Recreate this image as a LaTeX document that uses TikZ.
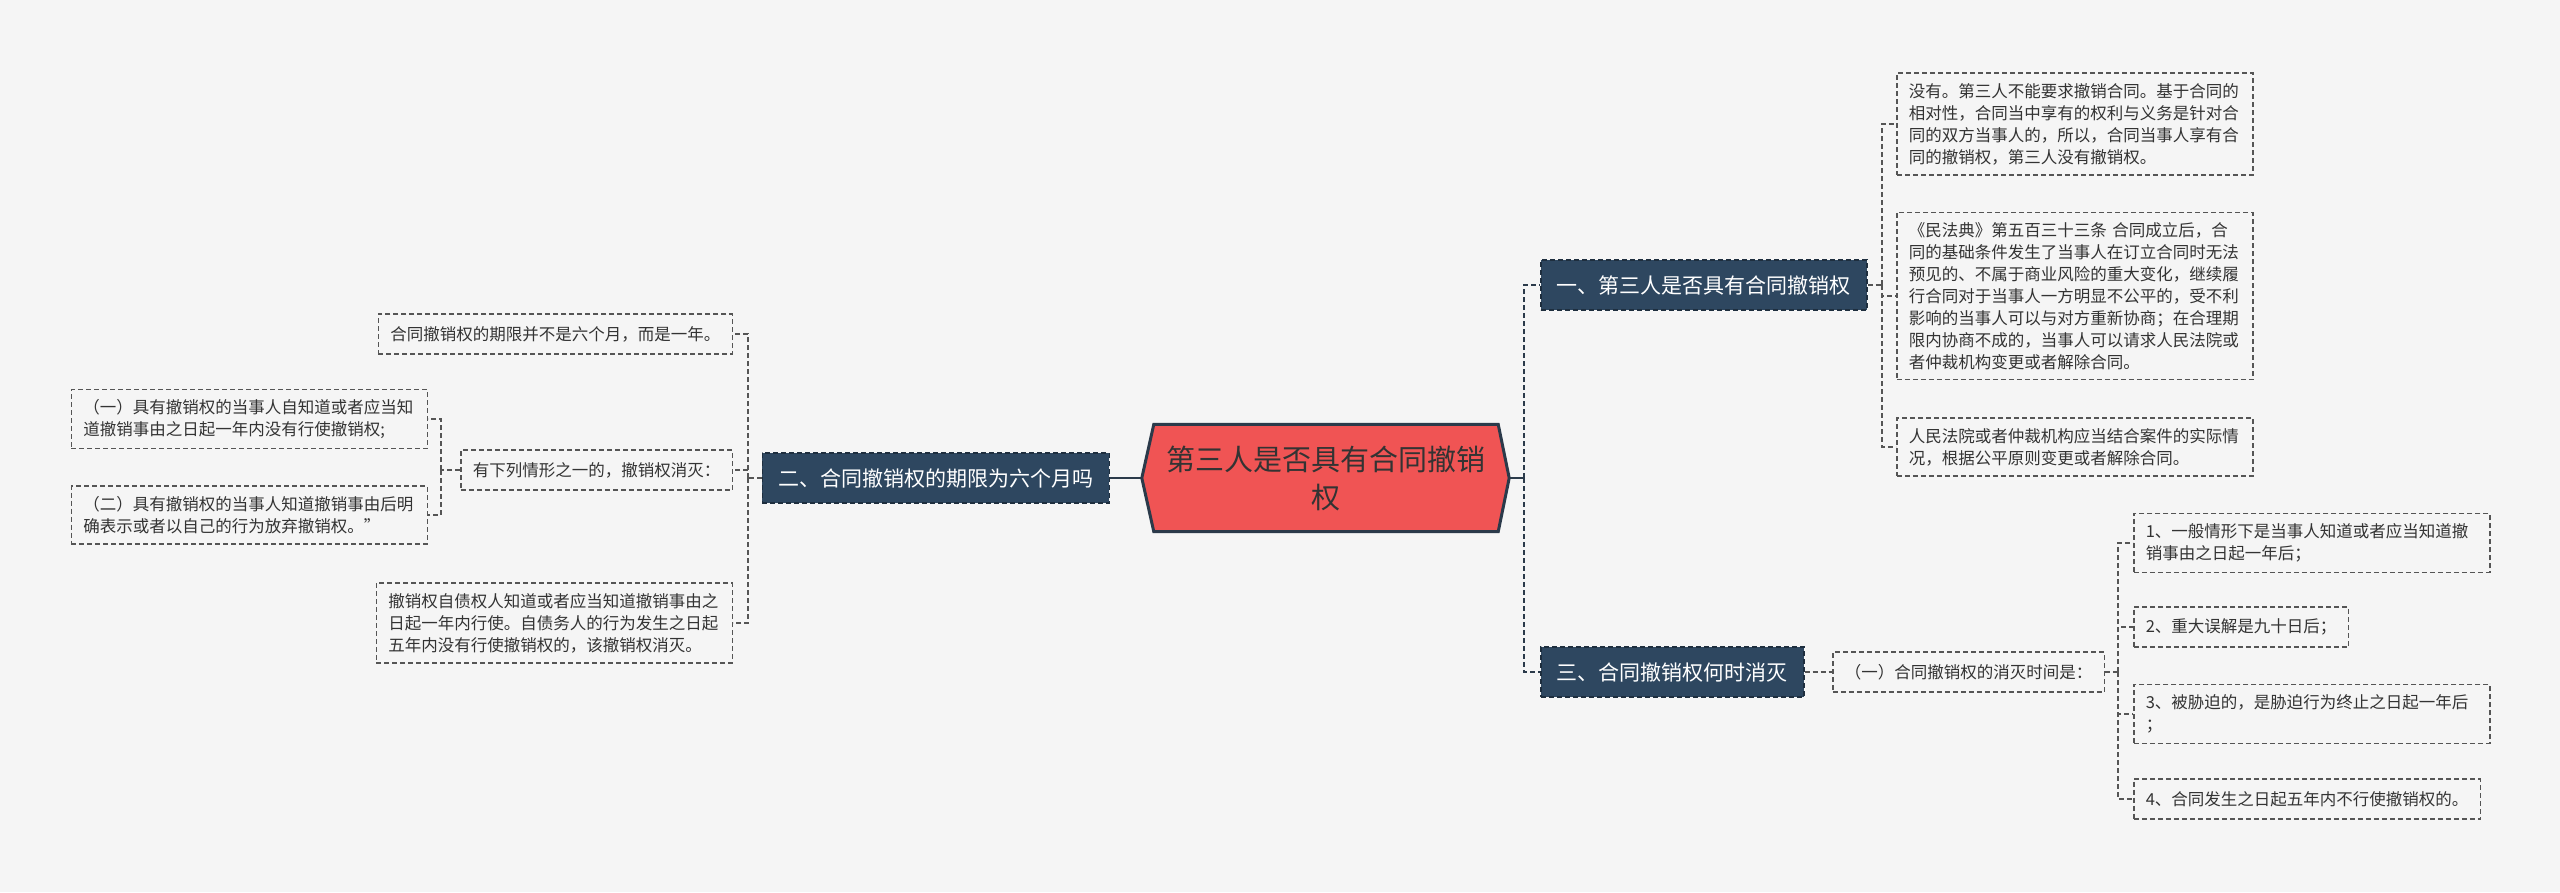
\documentclass[tikz,border=0pt]{standalone}
\usepackage{fontspec}
\setmainfont{Noto Sans CJK SC}
\usetikzlibrary{calc,backgrounds}
\definecolor{bgc}{HTML}{F5F5F5}
\definecolor{topicfill}{HTML}{2E4760}
\definecolor{topicline}{HTML}{1E2E3E}
\definecolor{rootfill}{HTML}{F05454}
\definecolor{rootline}{HTML}{2B3A4A}
\definecolor{leafline}{HTML}{555555}
\definecolor{txt}{HTML}{333333}
\begin{document}
\begin{tikzpicture}[x=1pt,y=-1pt,
  leaf/.style={draw=leafline, line width=1.5pt, dash pattern=on 5pt off 3pt, fill=bgc,
    inner xsep=12pt, inner ysep=10pt, minimum height=40pt, text=txt, align=left,
    font=\fontsize{16.5pt}{22pt}\selectfont},
  leafw/.style={leaf, text width=332pt},
  topic/.style={draw=topicline, line width=1.5pt, dash pattern=on 5pt off 3pt, fill=topicfill,
    inner xsep=16pt, inner ysep=0pt, minimum height=50pt, text=white,
    font=\fontsize{21pt}{26pt}\selectfont},
  rootnode/.style={minimum width=367pt, minimum height=107pt, inner sep=0pt, align=center,
    text=txt, font=\fontsize{29pt}{38pt}\selectfont},
  mainline/.style={draw=rootline, line width=2.5pt},
  maindash/.style={draw=rootline, line width=2.5pt, dash pattern=on 5pt off 3pt},
  conn/.style={draw=leafline, line width=1.5pt, dash pattern=on 5pt off 3pt}
]
\useasboundingbox (0,0) rectangle (2560,892);

% root
\node[rootnode] (ctr) at (1325.5,478) {第三人是否具有合同撤销\\权};
\begin{pgfonlayer}{background}
\fill[bgc] (0,0) rectangle (2560,892);
\filldraw[fill=rootfill, draw=rootline, line width=3pt, line join=miter]
  (ctr.west) -- ($(ctr.north west)+(12,0)$) -- ($(ctr.north east)+(-11,0)$) -- (ctr.east)
  -- ($(ctr.south east)+(-11,0)$) -- ($(ctr.south west)+(12,0)$) -- cycle;
\end{pgfonlayer}

% topics
\node[topic, anchor=west] (n1) at (1540,285) {一、第三人是否具有合同撤销权};
\node[topic, anchor=east] (n2) at (1110,478) {二、合同撤销权的期限为六个月吗};
\node[topic, anchor=west] (n3) at (1540,672) {三、合同撤销权何时消灭};

% branch 1 leaves
\node[leafw, anchor=west] (c1) at (1896,124) {没有。第三人不能要求撤销合同。基于合同的\\相对性，合同当中享有的权利与义务是针对合\\同的双方当事人的，所以，合同当事人享有合\\同的撤销权，第三人没有撤销权。};
\node[leafw, anchor=west] (c2) at (1896,296) {《民法典》第五百三十三条 合同成立后，合\\同的基础条件发生了当事人在订立合同时无法\\预见的、不属于商业风险的重大变化，继续履\\行合同对于当事人一方明显不公平的，受不利\\影响的当事人可以与对方重新协商；在合理期\\限内协商不成的，当事人可以请求人民法院或\\者仲裁机构变更或者解除合同。};
\node[leafw, anchor=west] (c3) at (1896,447) {人民法院或者仲裁机构应当结合案件的实际情\\况，根据公平原则变更或者解除合同。};

% branch 3
\node[leaf, anchor=west] (s3) at (1832,672) {（一）合同撤销权的消灭时间是：};
\node[leafw, anchor=west] (k1) at (2133,543) {1、一般情形下是当事人知道或者应当知道撤\\销事由之日起一年后；};
\node[leaf, anchor=west] (k2) at (2133,627) {2、重大误解是九十日后；};
\node[leafw, anchor=west] (k3) at (2133,714) {3、被胁迫的，是胁迫行为终止之日起一年后\\；};
\node[leaf, anchor=west] (k4) at (2133,799) {4、合同发生之日起五年内不行使撤销权的。};

% branch 2
\node[leaf, anchor=east] (L1) at (733,334) {合同撤销权的期限并不是六个月，而是一年。};
\node[leaf, anchor=east] (L2) at (733,470) {有下列情形之一的，撤销权消灭：};
\node[leafw, anchor=east] (L3) at (733,623) {撤销权自债权人知道或者应当知道撤销事由之\\日起一年内行使。自债务人的行为发生之日起\\五年内没有行使撤销权的，该撤销权消灭。};
\node[leafw, anchor=east] (L2a) at (428,419) {（一）具有撤销权的当事人自知道或者应当知\\道撤销事由之日起一年内没有行使撤销权;};
\node[leafw, anchor=east] (L2b) at (428,515) {（二）具有撤销权的当事人知道撤销事由后明\\确表示或者以自己的行为放弃撤销权。”};

% junctions
\coordinate (jR) at (1524,478);
\coordinate (j1) at (1882,285);
\coordinate (j3) at (2118,672);
\coordinate (j2) at (748,478);
\coordinate (j2b) at (441,470);

% connectors
\draw[mainline] (ctr.west) -- (n2.east);
\draw[mainline] (ctr.east) -- (jR);
\draw[maindash] (jR) |- (n1.west);
\draw[maindash] (jR) |- (n3.west);

\draw[conn] (n1.east) -- (j1);
\draw[conn] (j1) |- (c1.west);
\draw[conn] (j1) |- (c2.west);
\draw[conn] (j1) |- (c3.west);

\draw[conn] (n3.east) -- (s3.west);
\draw[conn] (s3.east) -- (j3);
\draw[conn] (j3) |- (k1.west);
\draw[conn] (j3) |- (k2.west);
\draw[conn] (j3) |- (k3.west);
\draw[conn] (j3) |- (k4.west);

\draw[conn] (n2.west) -- (j2);
\draw[conn] (j2) |- (L1.east);
\draw[conn] (j2) |- (L2.east);
\draw[conn] (j2) |- (L3.east);

\draw[conn] (L2.west) -- (j2b);
\draw[conn] (j2b) |- (L2a.east);
\draw[conn] (j2b) |- (L2b.east);
\end{tikzpicture}
\end{document}
